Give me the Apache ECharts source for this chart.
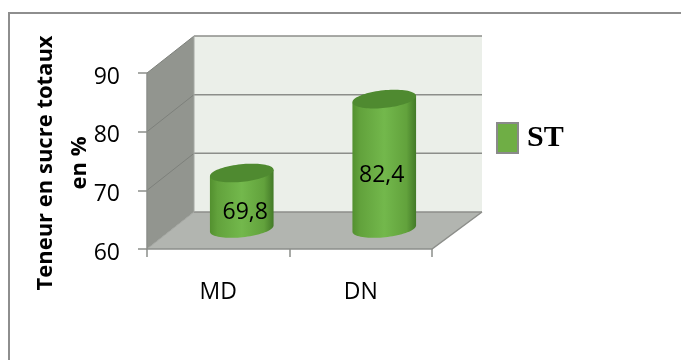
<!DOCTYPE html>
<html>
<head>
<meta charset="utf-8">
<style>html,body{margin:0;padding:0;background:#fff}#chart{width:681px;height:360px}</style>
<script src="https://cdn.jsdelivr.net/npm/echarts@6/dist/echarts.min.js"></script>
</head>
<body>
<div id="chart"></div>
<script>
const categories = ['MD', 'DN'];
const seriesName = 'ST';
const sugarValues = [69.8, 82.4];
const labelTexts = ['69,8', '82,4'];
const yTicks = [60, 70, 80, 90];
const yTitle = 'Teneur en sucre totaux\nen %';

// Oblique projection used for the pseudo-3D box
const DEPTH_X = 47, DEPTH_Y = -37, BACK_EXTRA = 3;
const R_X = 32, R_Y = 8.8, TILT = -6 * Math.PI / 180;
const LABEL_NUDGE = [3.5, -2.5];

const chart = echarts.init(document.getElementById('chart'));

// Point on a tilted ellipse
function ellipsePt(cx, cy, t) {
  const ex = R_X * Math.cos(t), ey = R_Y * Math.sin(t);
  return [cx + ex * Math.cos(TILT) - ey * Math.sin(TILT),
          cy + ex * Math.sin(TILT) + ey * Math.cos(TILT)];
}

function renderBox(params, api) {
  const c = params.coordSys;
  const L = c.x, R = c.x + c.width, B = c.y + c.height;
  const backR = R + DEPTH_X + BACK_EXTRA;
  const floor = [[L, B], [R, B], [backR, B + DEPTH_Y], [L + DEPTH_X, B + DEPTH_Y]];
  const top = api.coord([0, yTicks[yTicks.length - 1]])[1];
  const wall = [[L, B], [L + DEPTH_X, B + DEPTH_Y], [L + DEPTH_X, top + DEPTH_Y], [L, top]];
  const children = [
    { type: 'rect', shape: { x: L + DEPTH_X, y: top + DEPTH_Y, width: backR - L - DEPTH_X, height: B - top }, style: { fill: '#ebefe9' } },
    { type: 'polygon', shape: { points: wall }, style: { fill: '#92958f' } },
    { type: 'polygon', shape: { points: floor }, style: { fill: '#b2b5b0' } }
  ];
  const edge = { fill: null, stroke: '#8c8e8a', lineWidth: 1.5 };
  yTicks.forEach((v, n) => {
    const y = api.coord([0, v])[1];
    children.push({
      type: 'line',
      shape: { x1: L, y1: y, x2: L + DEPTH_X, y2: y + DEPTH_Y },
      style: { stroke: n === 0 ? '#a2a5a0' : '#7d807b', lineWidth: 1 }
    });
    children.push({
      type: 'line',
      shape: { x1: L + DEPTH_X, y1: y + DEPTH_Y, x2: backR, y2: y + DEPTH_Y },
      style: edge
    });
  });
  children.push(
    { type: 'polyline', shape: { points: [[L, top], [L, B], [R, B], [backR, B + DEPTH_Y]] }, style: edge },
    { type: 'line', shape: { x1: L + DEPTH_X, y1: top + DEPTH_Y, x2: L + DEPTH_X, y2: B + DEPTH_Y }, style: { stroke: '#a5a8a3', lineWidth: 1 } }
  );
  return { type: 'group', children };
}

function renderCylinder(params, api) {
  const i = api.value(0);
  const val = api.value(1);
  const base = api.coord([i, yTicks[0]]);
  const head = api.coord([i, val]);
  const cx = base[0] + DEPTH_X / 2;
  const yBottom = base[1] + DEPTH_Y / 2 - 2;
  const yTop = head[1] + DEPTH_Y / 2;
  const N = 40;
  const pts = [];
  for (let k = 0; k <= N; k++) pts.push(ellipsePt(cx, yBottom, Math.PI * k / N));
  pts.push(ellipsePt(cx, yTop, Math.PI), ellipsePt(cx, yTop, 0));
  const topPts = [];
  for (let k = 0; k < 2 * N; k++) topPts.push(ellipsePt(cx, yTop, Math.PI * k / N));
  const body = new echarts.graphic.LinearGradient(0, 0, 1, 0, [
    { offset: 0, color: '#53902f' },
    { offset: 0.12, color: '#62a23c' },
    { offset: 0.5, color: '#73b84c' },
    { offset: 0.85, color: '#62a23c' },
    { offset: 1, color: '#437a28' }
  ]);
  return {
    type: 'group',
    children: [
      { type: 'polygon', shape: { points: pts }, style: { fill: body } },
      { type: 'polygon', shape: { points: topPts }, style: { fill: '#4f8a30' } },
      {
        type: 'text',
        style: {
          text: labelTexts[i],
          x: cx + LABEL_NUDGE[i],
          y: (yTop + yBottom) / 2 + 12,
          fill: '#000', font: '23px "Open Sans"', align: 'center', verticalAlign: 'middle'
        }
      }
    ]
  };
}

chart.setOption({
  animation: false,
  backgroundColor: '#fff',
  graphic: [{
    type: 'rect', silent: true, z: -1,
    shape: { x: 9, y: 13, width: 800, height: 500 },
    style: { fill: '#fff', stroke: '#8e8e8e', lineWidth: 2 }
  }],
  grid: { left: 147, top: 73, width: 285, height: 176, outerBoundsMode: 'none' },
  legend: {
    left: 496, top: 122, padding: 0,
    data: [{ name: seriesName, icon: 'rect' }],
    itemWidth: 21, itemHeight: 30, itemGap: 0,
    itemStyle: { color: '#6fae45', borderColor: '#8a8a8a', borderWidth: 2 },
    textStyle: { fontFamily: 'Liberation Serif', fontWeight: 'bold', fontSize: 30, color: '#000', padding: [0, 0, 0, 4] }
  },
  xAxis: {
    type: 'category', data: categories, boundaryGap: true,
    axisLine: { show: false },
    axisTick: { show: true, length: 8, lineStyle: { color: '#8c8e8a', width: 1.5 } },
    axisLabel: { color: '#000', fontFamily: 'Open Sans', fontSize: 23, margin: 32 },
    splitLine: { show: false }
  },
  yAxis: {
    type: 'value', min: yTicks[0], max: yTicks[yTicks.length - 1], interval: 10,
    name: yTitle, nameLocation: 'middle', nameRotate: 90, nameGap: 50, nameMoveOverlap: false,
    nameTextStyle: { color: '#000', fontFamily: 'Open Sans', fontWeight: 'bold', fontSize: 22, lineHeight: 34, padding: [0, 4, 0, 0] },
    axisLine: { show: false },
    axisTick: { show: true, length: 9, lineStyle: { color: '#8c8e8a', width: 1.5 } },
    axisLabel: { color: '#000', fontFamily: 'Open Sans', fontSize: 23, margin: 27, verticalAlign: 'top', lineHeight: 8 },
    splitLine: { show: false }
  },
  series: [
    {
      type: 'custom', name: 'box', silent: true, z: 1,
      renderItem: renderBox, data: [[0]], encode: { x: 0 }
    },
    {
      type: 'custom', name: seriesName, z: 2,
      itemStyle: { color: '#6fae45' },
      renderItem: renderCylinder,
      data: sugarValues.map((v, i) => [i, v]),
      encode: { x: 0, y: 1 }
    }
  ]
});
</script>
</body>
</html>
